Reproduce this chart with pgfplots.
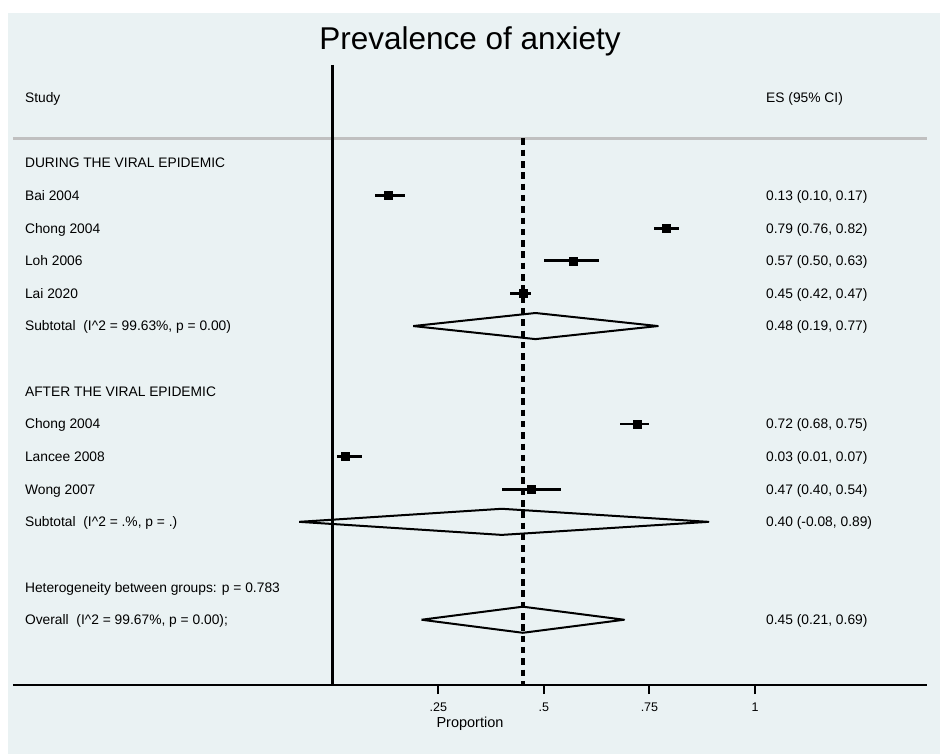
\documentclass[border=0pt]{standalone}
\usepackage{pgfplots}
\pgfplotsset{compat=1.18}
\usepackage{fontspec}
\setmainfont{Liberation Sans}
\definecolor{bgblue}{RGB}{234,242,243}
\definecolor{sepgray}{RGB}{192,192,192}
\newcommand{\lab}{\fontsize{13.8}{16}\selectfont}
\tikzset{lt/.style={font=\lab, anchor=base west, inner sep=0pt, yshift=-4.9pt}}

\pgfplotstableread{
row es em ep
1 0.13 0.03 0.04
2 0.79 0.03 0.03
3 0.57 0.07 0.06
4 0.45 0.03 0.02
8 0.72 0.04 0.03
9 0.03 0.02 0.04
10 0.47 0.07 0.07
}\studies

\begin{document}
\begin{tikzpicture}
\fill[white] (0pt,0pt) rectangle (940pt,754pt);
\fill[bgblue] (8.3pt,0pt) rectangle (940pt,741.3pt);
\node[font=\fontsize{31.5}{36}\selectfont, anchor=base, inner sep=0pt] at (470pt,704pt) {Prevalence of anxiety};
\begin{axis}[
  at={(13pt,69pt)}, anchor=south west,
  scale only axis, width=914pt, height=620pt,
  xmin=-0.758, xmax=1.4076,
  ymin=-3, ymax=16, y dir=reverse,
  axis x line*=bottom, axis y line=none,
  x axis line style={line width=2pt, black},
  xtick={0.25,0.5,0.75,1}, xticklabels={.25,.5,.75,1},
  minor xtick={},
  tick align=outside, major tick length=9pt,
  x tick style={line width=2pt, black},
  xticklabel style={font=\fontsize{12.5}{15}\selectfont, anchor=base, yshift=-17pt},
  xlabel={Proportion},
  xlabel style={font=\fontsize{14.5}{17}\selectfont, at={(axis description cs:0.5,0)}, anchor=base, yshift=-42.9pt},
  ytick=\empty,
  clip=false,
  /pgf/number format/assume math mode=true,
]
% separator and reference lines
\addplot[sepgray, line width=2.5pt, forget plot] coordinates {(-0.758,-0.75) (1.4076,-0.75)};
\addplot[black, line width=3pt, forget plot] coordinates {(0,-3) (0,16)};
\addplot[black, line width=3.8pt, dash pattern=on 6.5pt off 4.8pt, forget plot] coordinates {(0.45,-0.75) (0.45,16)};
% study estimates
\addplot[black, only marks, mark=square*, mark size=4pt,
  error bars/.cd, x dir=both, x explicit, error mark=none,
  error bar style={line width=2.8pt, black}]
  table[x=es, y=row, x error plus=ep, x error minus=em] {\studies};
% pooled diamonds
\addplot[black, line width=2pt, line join=round, mark=none] coordinates {(0.19,5) (0.48,4.6) (0.77,5) (0.48,5.4) (0.19,5)};
\addplot[black, line width=2pt, line join=round, mark=none] coordinates {(-0.08,11) (0.40,10.6) (0.89,11) (0.40,11.4) (-0.08,11)};
\addplot[black, line width=2pt, line join=round, mark=none] coordinates {(0.21,14) (0.45,13.6) (0.69,14) (0.45,14.4) (0.21,14)};
% left column
\node[lt] at (axis cs:-0.7299,-2) {Study};
\node[lt] at (axis cs:-0.7299,0) {DURING THE VIRAL EPIDEMIC};
\node[lt] at (axis cs:-0.7299,1) {Bai 2004};
\node[lt] at (axis cs:-0.7299,2) {Chong 2004};
\node[lt] at (axis cs:-0.7299,3) {Loh 2006};
\node[lt] at (axis cs:-0.7299,4) {Lai 2020};
\node[lt] at (axis cs:-0.7299,5) {Subtotal\ \ (I\textasciicircum 2 = 99.63\%, p = 0.00)};
\node[lt] at (axis cs:-0.7299,7) {AFTER THE VIRAL EPIDEMIC};
\node[lt] at (axis cs:-0.7299,8) {Chong 2004};
\node[lt] at (axis cs:-0.7299,9) {Lancee 2008};
\node[lt] at (axis cs:-0.7299,10) {Wong 2007};
\node[lt] at (axis cs:-0.7299,11) {Subtotal\ \ (I\textasciicircum 2 = .\%, p = .)};
\node[lt] at (axis cs:-0.7299,13) {Heterogeneity between groups: p = 0.783};
\node[lt] at (axis cs:-0.7299,14) {Overall\ \ (I\textasciicircum 2 = 99.67\%, p = 0.00);};
% right column
\node[lt] at (axis cs:1.0261,-2) {ES (95\% CI)};
\node[lt] at (axis cs:1.0261,1) {0.13 (0.10, 0.17)};
\node[lt] at (axis cs:1.0261,2) {0.79 (0.76, 0.82)};
\node[lt] at (axis cs:1.0261,3) {0.57 (0.50, 0.63)};
\node[lt] at (axis cs:1.0261,4) {0.45 (0.42, 0.47)};
\node[lt] at (axis cs:1.0261,5) {0.48 (0.19, 0.77)};
\node[lt] at (axis cs:1.0261,8) {0.72 (0.68, 0.75)};
\node[lt] at (axis cs:1.0261,9) {0.03 (0.01, 0.07)};
\node[lt] at (axis cs:1.0261,10) {0.47 (0.40, 0.54)};
\node[lt] at (axis cs:1.0261,11) {0.40 (-0.08, 0.89)};
\node[lt] at (axis cs:1.0261,14) {0.45 (0.21, 0.69)};
\end{axis}
\end{tikzpicture}
\end{document}
